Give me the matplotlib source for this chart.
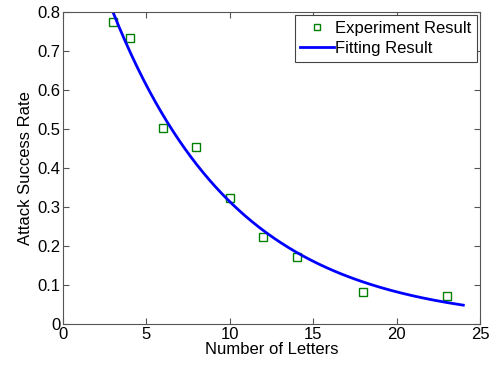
import numpy as np
import matplotlib
matplotlib.use("Agg")
import matplotlib.pyplot as plt

plt.rcParams['font.family'] = ['Liberation Sans', 'DejaVu Sans']

# Experiment points
letters = [3, 4, 6, 8, 10, 12, 14, 18, 23]
success = [0.775, 0.733, 0.503, 0.454, 0.323, 0.223, 0.172, 0.082, 0.072]

x_ticks = [0, 5, 10, 15, 20, 25]
y_ticks = [0, 0.1, 0.2, 0.3, 0.4, 0.5, 0.6, 0.7, 0.8]


def fit_exp(x, y, a=1.0, b=0.1, n_iter=50):
    # y = a * exp(-b x), Gauss-Newton least squares
    x = np.asarray(x, float)
    y = np.asarray(y, float)
    for _ in range(n_iter):
        e = np.exp(-b * x)
        r = y - a * e
        J = np.column_stack([e, -a * x * e])
        step, *_ = np.linalg.lstsq(J, r, rcond=None)
        a, b = a + step[0], b + step[1]
    return a, b


a, b = fit_exp(letters, success)
xf = np.linspace(2.5, 24, 300)
yf = a * np.exp(-b * xf)

fig = plt.figure(figsize=(4.97, 3.66), dpi=100)
ax = fig.add_axes([0.1268, 0.1148, 0.839, 0.8524])

ax.plot(letters, success, 's', mfc='none', mec=(0, 0.5, 0), mew=1.0, ms=6,
        label='Experiment Result')
ax.plot(xf, yf, '-', color=(0, 0, 1), lw=2, label='Fitting Result')

ax.set_xlim(0, 25)
ax.set_ylim(0, 0.8)
ax.set_xticks(x_ticks)
ax.set_yticks(y_ticks)
ax.set_xticklabels([str(t) for t in x_ticks])
ax.set_yticklabels(['0'] + ['%.1f' % t for t in y_ticks[1:]])
ax.tick_params(direction='in', top=True, right=True, labelsize=12, length=4,
               color='#555555', pad=2)
for s in ax.spines.values():
    s.set_color('#555555')
    s.set_linewidth(0.8)

ax.set_xlabel('Number of Letters', fontsize=12, labelpad=0)
ax.set_ylabel('Attack Success Rate', fontsize=12, labelpad=3)

leg = ax.legend(loc='upper right', fontsize=12, fancybox=False, framealpha=1,
                edgecolor='#444444', borderpad=0.35, handlelength=2.0,
                handletextpad=0.05, labelspacing=0.3, borderaxespad=0.2,
                markerscale=0.8)
leg.get_frame().set_linewidth(0.8)

fig.savefig('out.png', dpi=100)
